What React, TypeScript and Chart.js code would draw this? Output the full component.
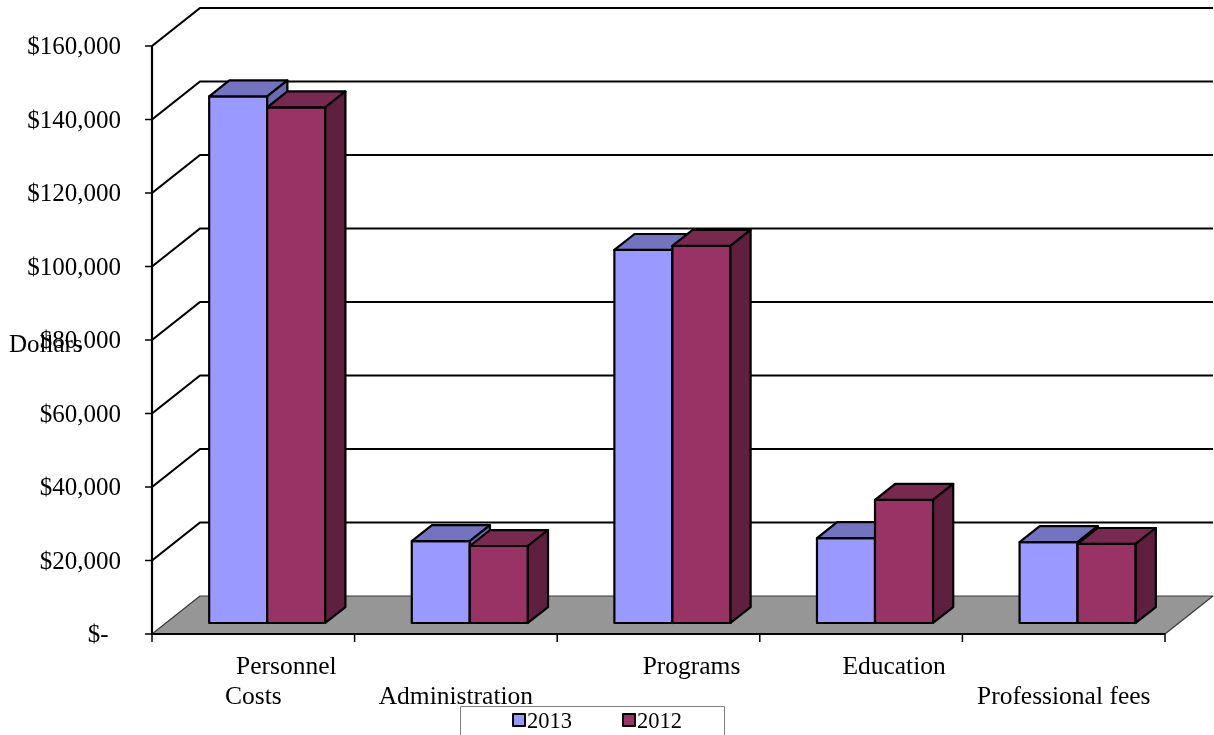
import React, { useEffect, useRef } from "react";
import { Chart, registerables } from "chart.js";

Chart.register(...registerables);

const categories = ["Personnel Costs", "Administration", "Programs", "Education", "Professional fees"];
const categoryLabelLines = [["Personnel", "Costs"], ["", "Administration"], ["Programs"], ["Education"], ["", "Professional fees"]];
const seriesNames = ["2013", "2012"];
const values2013 = [143300, 22300, 101500, 23100, 22000];
const values2012 = [140300, 20950, 102600, 33500, 21500];
const yTicks = [0, 20000, 40000, 60000, 80000, 100000, 120000, 140000, 160000];
const yTickLabels = ["$-  ", "$20,000", "$40,000", "$60,000", "$80,000", "$100,000", "$120,000", "$140,000", "$160,000"];
const yAxisTitle = "Dollars";

const FONT = '"Liberation Serif", "Times New Roman", serif';
const DX = 48;
const DY = -38;
const F1 = 0.29;
const F2 = 0.71;

const palettes = [
  { front: "#9999FF", top: "#7373BF", side: "#6A6AB3" },
  { front: "#993366", top: "#77294F", side: "#5F1F3F" },
];

const threeDPlugin = {
  id: "threeD",
  afterDatasetsDraw(chart: any) {
    const ctx = chart.ctx as CanvasRenderingContext2D;
    const { left, right, top, bottom } = chart.chartArea;
    const ys = chart.scales.y;
    const xs = chart.scales.x;
    ctx.save();
    ctx.lineJoin = "round";

    // floor
    ctx.beginPath();
    ctx.moveTo(left, bottom);
    ctx.lineTo(right, bottom);
    ctx.lineTo(right + DX, bottom + DY);
    ctx.lineTo(left + DX, bottom + DY);
    ctx.closePath();
    ctx.fillStyle = "#969696";
    ctx.fill();
    ctx.strokeStyle = "#3a3a3a";
    ctx.lineWidth = 1.2;
    ctx.stroke();

    // wall gridlines
    yTicks.forEach((v) => {
      if (v === 0) return;
      const y = ys.getPixelForValue(v);
      ctx.beginPath();
      ctx.moveTo(left, y);
      ctx.lineTo(left + DX, y + DY);
      ctx.lineTo(right + DX, y + DY);
      ctx.strokeStyle = "#000";
      ctx.lineWidth = 2.2;
      ctx.stroke();
    });

    // axes
    ctx.strokeStyle = "#000";
    ctx.lineWidth = 2.2;
    ctx.beginPath();
    ctx.moveTo(left, top);
    ctx.lineTo(left, bottom);
    ctx.lineTo(right, bottom);
    ctx.stroke();
    ctx.lineWidth = 1.5;
    yTicks.forEach((v) => {
      const y = ys.getPixelForValue(v);
      ctx.beginPath();
      ctx.moveTo(left - 7, y);
      ctx.lineTo(left, y);
      ctx.stroke();
    });
    const step = xs.getPixelForValue(1) - xs.getPixelForValue(0);
    for (let i = 0; i <= categories.length; i++) {
      const x = xs.getPixelForValue(0) - step / 2 + i * step;
      ctx.beginPath();
      ctx.moveTo(x, bottom);
      ctx.lineTo(x, bottom + 8);
      ctx.stroke();
    }

    // bars
    const fx = DX * F1, fy = DY * F1, bx = DX * F2, by = DY * F2;
    for (let j = 0; j < categories.length; j++) {
      for (let i = 0; i < chart.data.datasets.length; i++) {
        const el = chart.getDatasetMeta(i).data[j];
        const p = palettes[i];
        const x0 = el.x - el.width / 2;
        const x1 = el.x + el.width / 2;
        const yt = el.y;
        const yb = el.base;
        ctx.lineWidth = 2.2;
        ctx.strokeStyle = "#000";
        // front
        ctx.beginPath();
        ctx.rect(x0 + fx, yt + fy, x1 - x0, yb - yt);
        ctx.fillStyle = p.front;
        ctx.fill();
        ctx.stroke();
        // top
        ctx.beginPath();
        ctx.moveTo(x0 + fx, yt + fy);
        ctx.lineTo(x1 + fx, yt + fy);
        ctx.lineTo(x1 + bx, yt + by);
        ctx.lineTo(x0 + bx, yt + by);
        ctx.closePath();
        ctx.fillStyle = p.top;
        ctx.fill();
        ctx.stroke();
        // side
        ctx.beginPath();
        ctx.moveTo(x1 + fx, yt + fy);
        ctx.lineTo(x1 + bx, yt + by);
        ctx.lineTo(x1 + bx, yb + by);
        ctx.lineTo(x1 + fx, yb + fy);
        ctx.closePath();
        ctx.fillStyle = p.side;
        ctx.fill();
        ctx.stroke();
      }
    }

    // y labels
    ctx.fillStyle = "#000";
    ctx.font = `25px ${FONT}`;
    ctx.textAlign = "right";
    ctx.textBaseline = "alphabetic";
    yTicks.forEach((v, k) => {
      const y = ys.getPixelForValue(v);
      ctx.fillText(yTickLabels[k], left - 31, y + 8);
    });
    ctx.textAlign = "left";
    ctx.fillText(yAxisTitle, 9, 352);

    // x labels
    ctx.font = `25.5px ${FONT}`;
    ctx.textAlign = "center";
    categoryLabelLines.forEach((lines, j) => {
      const cx = xs.getPixelForValue(j);
      lines.forEach((t, l) => {
        if (!t) return;
        const x = l === 0 ? cx + 33 : cx;
        ctx.fillText(t, x, bottom + 40 + l * 30);
      });
    });

    // legend
    ctx.fillStyle = "#fff";
    ctx.fillRect(460.5, 706.5, 264, 40);
    ctx.strokeStyle = "#808080";
    ctx.lineWidth = 1;
    ctx.strokeRect(460.5, 706.5, 264, 40);
    ctx.font = `22.5px ${FONT}`;
    ctx.textAlign = "left";
    const lx = [513, 623];
    seriesNames.forEach((name, i) => {
      ctx.fillStyle = palettes[i].front;
      ctx.fillRect(lx[i], 714, 12, 12);
      ctx.strokeStyle = "#000";
      ctx.lineWidth = 2;
      ctx.strokeRect(lx[i], 714, 12, 12);
      ctx.fillStyle = "#000";
      ctx.fillText(name, lx[i] + 14, 728);
    });

    ctx.restore();
  },
};

export default function App() {
  const ref = useRef<HTMLCanvasElement | null>(null);
  useEffect(() => {
    document.body.style.margin = "0";
    const canvas = ref.current;
    if (!canvas) return;
    const chart = new Chart(canvas, {
      type: "bar",
      data: {
        labels: categories,
        datasets: [
          { label: seriesNames[0], data: values2013, backgroundColor: "rgba(0,0,0,0)", borderWidth: 0 },
          { label: seriesNames[1], data: values2012, backgroundColor: "rgba(0,0,0,0)", borderWidth: 0 },
        ],
      },
      options: {
        responsive: false,
        animation: false,
        layout: { padding: { left: 152, right: 49, top: 46, bottom: 101 } },
        datasets: { bar: { categoryPercentage: 0.573, barPercentage: 1 } },
        plugins: { legend: { display: false }, tooltip: { enabled: false } },
        scales: {
          x: { display: false, offset: true },
          y: { display: false, min: 0, max: 160000, ticks: { stepSize: 20000 } },
        },
      },
      plugins: [threeDPlugin],
    });
    return () => chart.destroy();
  }, []);
  return (
    <div style={{ position: "absolute", left: 0, top: 0, width: 1214, height: 735, background: "#fff" }}>
      <canvas ref={ref} width={1214} height={735} style={{ width: 1214, height: 735, display: "block" }} />
    </div>
  );
}
